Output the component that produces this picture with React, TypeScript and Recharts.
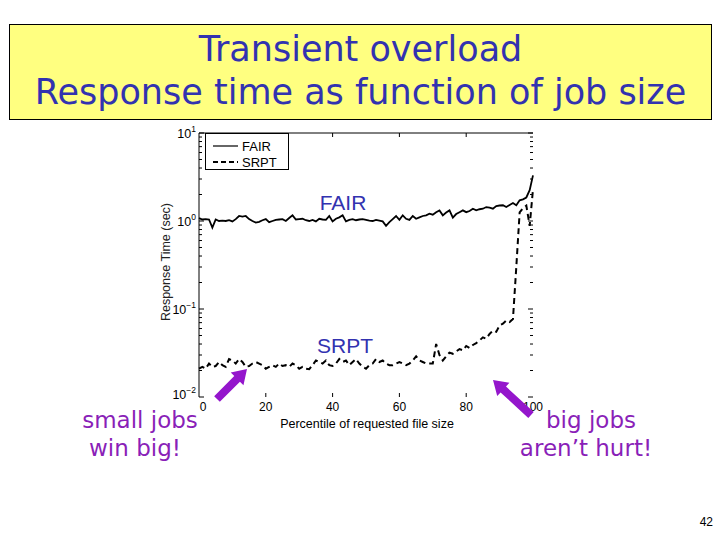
import React from 'react';
import { LineChart, Line, XAxis, YAxis, Legend } from 'recharts';

// percentile of requested file size, 0..100
const percentiles = Array.from({ length: 101 }, (_, i) => i);

const fairTimes = [
  1.08, 1.04, 1.05, 1.04, 0.84, 1.04, 1.0, 1.01, 1.0, 1.02,
  0.99, 1.05, 1.14, 1.12, 1.14, 1.05, 1.0, 0.96, 0.98, 1.02,
  1.05, 0.97, 1.0, 1.03, 1.04, 1.05, 1.0, 1.08, 1.16, 1.04,
  1.05, 1.06, 1.02, 1.0, 1.03, 0.99, 1.06, 1.04, 1.03, 1.14,
  0.99, 1.06, 1.1, 1.16, 0.99, 1.03, 1.05, 1.02, 1.04, 1.05,
  1.03, 1.01, 1.0, 1.03, 1.01, 0.99, 0.88, 0.97, 1.05, 1.14,
  1.03, 1.16, 1.06, 1.03, 1.14, 1.06, 1.1, 1.14, 1.16, 1.21,
  1.18, 1.26, 1.32, 1.16, 1.25, 1.32, 1.09, 1.2, 1.26, 1.32,
  1.26, 1.3, 1.38, 1.32, 1.36, 1.38, 1.44, 1.42, 1.38, 1.48,
  1.5, 1.51, 1.44, 1.52, 1.6, 1.51, 1.72, 1.76, 1.85, 2.24,
  3.3,
];

const srptTimes = [
  0.021, 0.022, 0.021, 0.024, 0.022, 0.0225, 0.025, 0.023, 0.022, 0.027,
  0.026, 0.024, 0.027, 0.025, 0.022, 0.0225, 0.024, 0.025, 0.024, 0.023,
  0.021, 0.022, 0.023, 0.022, 0.024, 0.0225, 0.023, 0.022, 0.024, 0.023,
  0.021, 0.022, 0.021, 0.0207, 0.023, 0.026, 0.025, 0.024, 0.026, 0.023,
  0.0225, 0.024, 0.027, 0.025, 0.026, 0.023, 0.025, 0.027, 0.024, 0.022,
  0.021, 0.023, 0.024, 0.027, 0.025, 0.026, 0.024, 0.023, 0.023, 0.024,
  0.025, 0.024, 0.023, 0.024, 0.026, 0.029, 0.026, 0.025, 0.024, 0.024,
  0.024, 0.04, 0.03, 0.026, 0.029, 0.032, 0.031, 0.033, 0.035, 0.034,
  0.038, 0.036, 0.039, 0.041, 0.044, 0.0476, 0.046, 0.052, 0.057, 0.055,
  0.065, 0.068, 0.074, 0.071, 0.077, 0.3, 1.25, 1.4, 1.5, 0.88,
  2.3,
];

const xTicks = [0, 20, 40, 60, 80, 100];
const majorY = [0.01, 0.1, 1, 10];
const exponents = ['\u22122', '\u22121', '0', '1'];
const yTicks = [
  0.01, 0.02, 0.03, 0.04, 0.05, 0.06, 0.07, 0.08, 0.09,
  0.1, 0.2, 0.3, 0.4, 0.5, 0.6, 0.7, 0.8, 0.9,
  1, 2, 3, 4, 5, 6, 7, 8, 9, 10,
];

const data = percentiles.map((p, i) => ({ pct: p, FAIR: fairTimes[i], SRPT: srptTimes[i] }));

const axisFont = '"Liberation Sans", Arial, sans-serif';
const slideFont = '"DejaVu Sans", "Noto Sans", sans-serif';
const titleBlue = '#3232b0';
const purple = '#9416cc';

const LeftTick = (props: any) => {
  const { x, y, payload } = props;
  const idx = majorY.indexOf(payload.value);
  const major = idx >= 0;
  return (
    <g>
      <line x1={x} x2={x + (major ? 5 : 3)} y1={y} y2={y} stroke="#000" strokeWidth={1} />
      {major && (
        <text x={x - 3} y={y + (idx === 0 ? 2 : 5)} textAnchor="end" fontSize={12.5} fontFamily={axisFont} fill="#000">
          10<tspan dy={-6} fontSize={8.5}>{exponents[idx]}</tspan>
        </text>
      )}
    </g>
  );
};

const RightTick = (props: any) => {
  const { x, y, payload } = props;
  const major = majorY.includes(payload.value);
  return <line x1={x} x2={x - (major ? 5 : 3)} y1={y} y2={y} stroke="#000" strokeWidth={1} />;
};

const BottomTick = (props: any) => {
  const { x, y, payload } = props;
  const v = payload.value;
  return (
    <g>
      {v > 0 && v < 100 && <line x1={x} x2={x} y1={y} y2={y - 4} stroke="#000" />}
      <text x={x + (v === 0 ? 4 : 0)} y={y + 14} textAnchor="middle" fontSize={12} fontFamily={axisFont} fill="#000">
        {v}
      </text>
    </g>
  );
};

const TopTick = (props: any) => {
  const { x, y, payload } = props;
  const v = payload.value;
  if (v === 0 || v === 100) return <g />;
  return <line x1={x} x2={x} y1={y} y2={y + 4} stroke="#000" />;
};

const LegendBox = (props: any) => {
  const items = props.payload || [];
  return (
    <div style={{ border: '1px solid #000', background: '#fff', width: 84, height: 37, boxSizing: 'border-box' }}>
      <svg width={82} height={35}>
        {items.map((it: any, i: number) => (
          <g key={it.value}>
            <line
              x1={7}
              x2={32}
              y1={12 + i * 16}
              y2={12 + i * 16}
              stroke="#000"
              strokeWidth={i === 0 ? 1.2 : 2}
              strokeDasharray={i === 0 ? undefined : '5 3'}
            />
            <text x={36} y={17 + i * 16} fontSize={13} fontFamily={axisFont} fill="#000">
              {it.value}
            </text>
          </g>
        ))}
      </svg>
    </div>
  );
};

// arrow polygon from tail to tip
const arrowPoints = (x1: number, y1: number, x2: number, y2: number) => {
  const dx = x2 - x1;
  const dy = y2 - y1;
  const len = Math.sqrt(dx * dx + dy * dy);
  const ux = dx / len;
  const uy = dy / len;
  const nx = -uy;
  const ny = ux;
  const head = 14;
  const hw = 9;
  const sw = 4;
  const bx = x2 - ux * head;
  const by = y2 - uy * head;
  const pts = [
    [x1 + nx * sw, y1 + ny * sw],
    [bx + nx * sw, by + ny * sw],
    [bx + nx * hw, by + ny * hw],
    [x2, y2],
    [bx - nx * hw, by - ny * hw],
    [bx - nx * sw, by - ny * sw],
    [x1 - nx * sw, y1 - ny * sw],
  ];
  return pts.map((p) => p.join(',')).join(' ');
};

export default function App() {
  return (
    <div style={{ position: 'absolute', left: 0, top: 0, width: 720, height: 540, background: '#fff', overflow: 'hidden' }}>
      <div
        style={{
          position: 'absolute',
          left: 9,
          top: 24,
          width: 703,
          height: 96,
          boxSizing: 'border-box',
          background: '#ffff80',
          border: '1px solid #000',
          color: titleBlue,
          fontFamily: slideFont,
          fontSize: 35,
          lineHeight: '43px',
          textAlign: 'center',
          paddingTop: 3,
        }}
      >
        <div>Transient overload</div>
        <div>Response time as function of job size</div>
      </div>

      <div style={{ position: 'absolute', left: 0, top: 0 }}>
        <LineChart width={720} height={540} data={data} margin={{ top: 132, right: 186, bottom: 142, left: 198 }}>
          <XAxis
            xAxisId="b"
            dataKey="pct"
            type="number"
            domain={[0, 100]}
            ticks={xTicks}
            height={1}
            axisLine={false}
            tickLine={false}
            tickSize={0}
            tickMargin={0}
            tick={<BottomTick />}
            interval={0}
          />
          <XAxis
            xAxisId="t"
            orientation="top"
            dataKey="pct"
            type="number"
            domain={[0, 100]}
            ticks={xTicks}
            height={1}
            axisLine={{ stroke: '#000', strokeWidth: 1 }}
            tickLine={false}
            tickSize={0}
            tickMargin={0}
            tick={<TopTick />}
            interval={0}
          />
          <YAxis
            yAxisId="l"
            scale="log"
            type="number"
            domain={[0.01, 10]}
            ticks={yTicks}
            allowDataOverflow
            width={1}
            axisLine={{ stroke: '#000', strokeWidth: 1 }}
            tickLine={false}
            tickSize={0}
            tickMargin={0}
            tick={<LeftTick />}
            interval={0}
          />
          <YAxis
            yAxisId="r"
            orientation="right"
            scale="log"
            type="number"
            domain={[0.01, 10]}
            ticks={yTicks}
            allowDataOverflow
            width={1}
            axisLine={false}
            tickLine={false}
            tickSize={0}
            tickMargin={0}
            tick={<RightTick />}
            interval={0}
          />
          <Legend
            layout="vertical"
            align="center"
            verticalAlign="middle"
            wrapperStyle={{ left: 205, top: 133, width: 84 }}
            content={<LegendBox />}
          />
          <Line
            xAxisId="b"
            yAxisId="l"
            dataKey="FAIR"
            name="FAIR"
            type="linear"
            stroke="#000"
            strokeWidth={1.8}
            dot={false}
            isAnimationActive={false}
          />
          <Line
            xAxisId="b"
            yAxisId="l"
            dataKey="SRPT"
            name="SRPT"
            type="linear"
            stroke="#000"
            strokeWidth={2}
            strokeDasharray="6 4"
            dot={false}
            isAnimationActive={false}
          />
        </LineChart>
      </div>

      <svg width={720} height={540} style={{ position: 'absolute', left: 0, top: 0, pointerEvents: 'none' }}>
        <text
          x={166}
          y={262}
          transform="rotate(-90 166 262)"
          textAnchor="middle"
          fontSize={12.5}
          fontFamily={axisFont}
          fill="#222"
          dy={4}
        >
          Response Time (sec)
        </text>
        <text x={367} y={428} textAnchor="middle" fontSize={12.5} fontFamily={axisFont} fill="#000">
          Percentile of requested file size
        </text>
        <text x={343} y={210} textAnchor="middle" fontSize={21} fontFamily={axisFont} fill={titleBlue}>
          FAIR
        </text>
        <text x={345} y={353} textAnchor="middle" fontSize={21} fontFamily={axisFont} fill={titleBlue}>
          SRPT
        </text>
        <polygon points={arrowPoints(217, 399, 247, 369)} fill={purple} />
        <polygon points={arrowPoints(531, 415, 493, 380)} fill={purple} />
        <g fontFamily={slideFont} fontSize={23} fill="#8a1fb8" textAnchor="middle">
          <text x={140} y={428}>small jobs</text>
          <text x={135} y={456}>win big!</text>
          <text x={591} y={428}>big jobs</text>
          <text x={586} y={456}>aren’t hurt!</text>
        </g>
        <text x={713} y={526} textAnchor="end" fontSize={12} fontFamily={axisFont} fill="#000">
          42
        </text>
      </svg>
    </div>
  );
}
